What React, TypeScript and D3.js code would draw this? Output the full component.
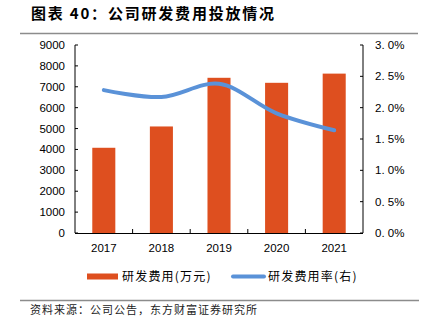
import React from "react";
import * as d3 from "d3";

const years = ["2017", "2018", "2019", "2020", "2021"];
const rdExpense = [4080, 5100, 7430, 7190, 7630];
const rdRatio = [2.28, 2.17, 2.38, 1.91, 1.64];
const leftTicks = [0, 1000, 2000, 3000, 4000, 5000, 6000, 7000, 8000, 9000];
const rightTicks = [0, 0.5, 1.0, 1.5, 2.0, 2.5, 3.0];

const ORANGE = "#DE4F1F";
const BLUE = "#5A92D8";
const NUM_FONT = "'Liberation Sans', Arial, sans-serif";
const CJK_FONT = "'Noto Sans CJK SC', sans-serif";

export default function App() {
  const W = 424, H = 333;
  const left = 75, right = 363, top = 45, bottom = 233;
  const x = d3.scaleBand().domain(years).range([left, right]).paddingInner(0).paddingOuter(0);
  const yL = d3.scaleLinear().domain([0, 9000]).range([bottom, top]);
  const yR = d3.scaleLinear().domain([0, 3]).range([bottom, top]);
  const barW = x.bandwidth() * 0.4;
  const line = d3
    .line<number>()
    .x((_, i) => (x(years[i]) as number) + x.bandwidth() / 2)
    .y((d) => yR(d))
    .curve(d3.curveCatmullRom.alpha(0.5));

  const boundaries = years.slice(1).map((y) => x(y) as number);

  return (
    <svg width={W} height={H} style={{ position: "absolute", left: 0, top: 0, background: "#fff" }}>
      <text x={31} y={19} fontFamily={CJK_FONT} fontWeight="bold" fontSize={15} letterSpacing={1.8} fill="#000">
        图表 40：公司研发费用投放情况
      </text>
      <line x1={20} x2={418} y1={33.5} y2={33.5} stroke="#8c8c8c" strokeWidth={1.5} />

      {rdExpense.map((v, i) => (
        <rect
          key={years[i]}
          x={(x(years[i]) as number) + (x.bandwidth() - barW) / 2}
          y={yL(v)}
          width={barW}
          height={bottom - yL(v)}
          fill={ORANGE}
        />
      ))}

      <path d={line(rdRatio) || ""} fill="none" stroke={BLUE} strokeWidth={4} strokeLinecap="round" />

      {/* left axis */}
      <line x1={left} x2={left} y1={top} y2={bottom} stroke="#000" strokeWidth={1} />
      {leftTicks.map((t) => (
        <g key={t}>
          <line x1={left} x2={left + 3} y1={yL(t)} y2={yL(t)} stroke="#000" />
          <text x={65} y={yL(t) + 4} textAnchor="end" fontFamily={NUM_FONT} fontSize={11.5} fill="#000">
            {t}
          </text>
        </g>
      ))}

      {/* right axis */}
      <line x1={right} x2={right} y1={top} y2={bottom} stroke="#000" strokeWidth={1} />
      {rightTicks.map((t) => (
        <g key={t}>
          <line x1={right - 3} x2={right} y1={yR(t)} y2={yR(t)} stroke="#000" />
          <text x={375} y={yR(t) + 4} textAnchor="start" fontFamily={NUM_FONT} fontSize={11.5} fill="#000">
            {t.toFixed(1).replace(".", ". ") + "%"}
          </text>
        </g>
      ))}

      {/* x axis */}
      <line x1={left} x2={right} y1={bottom + 0.5} y2={bottom + 0.5} stroke="#000" strokeWidth={1.2} />
      {boundaries.map((b, i) => (
        <line key={i} x1={b} x2={b} y1={bottom} y2={bottom - 4} stroke="#000" />
      ))}
      {years.map((y) => (
        <text
          key={y}
          x={(x(y) as number) + x.bandwidth() / 2}
          y={252}
          textAnchor="middle"
          fontFamily={NUM_FONT}
          fontSize={11.5}
          fill="#000"
        >
          {y}
        </text>
      ))}

      {/* legend */}
      <rect x={87} y={273.5} width={31} height={6} fill={ORANGE} />
      <text x={122} y={281} fontFamily={CJK_FONT} fontSize={12} letterSpacing={1.2} fill="#000">
        研发费用(万元)
      </text>
      <line x1={233} x2={264} y1={276.5} y2={276.5} stroke={BLUE} strokeWidth={4} strokeLinecap="round" />
      <text x={268} y={281} fontFamily={CJK_FONT} fontSize={12} letterSpacing={1.2} fill="#000">
        研发费用率(右)
      </text>

      <line x1={20} x2={419} y1={300.5} y2={300.5} stroke="#8c8c8c" strokeWidth={1.5} />
      <text x={30} y={314} fontFamily={CJK_FONT} fontSize={11} letterSpacing={1} fill="#222">
        资料来源：公司公告，东方财富证券研究所
      </text>
    </svg>
  );
}
